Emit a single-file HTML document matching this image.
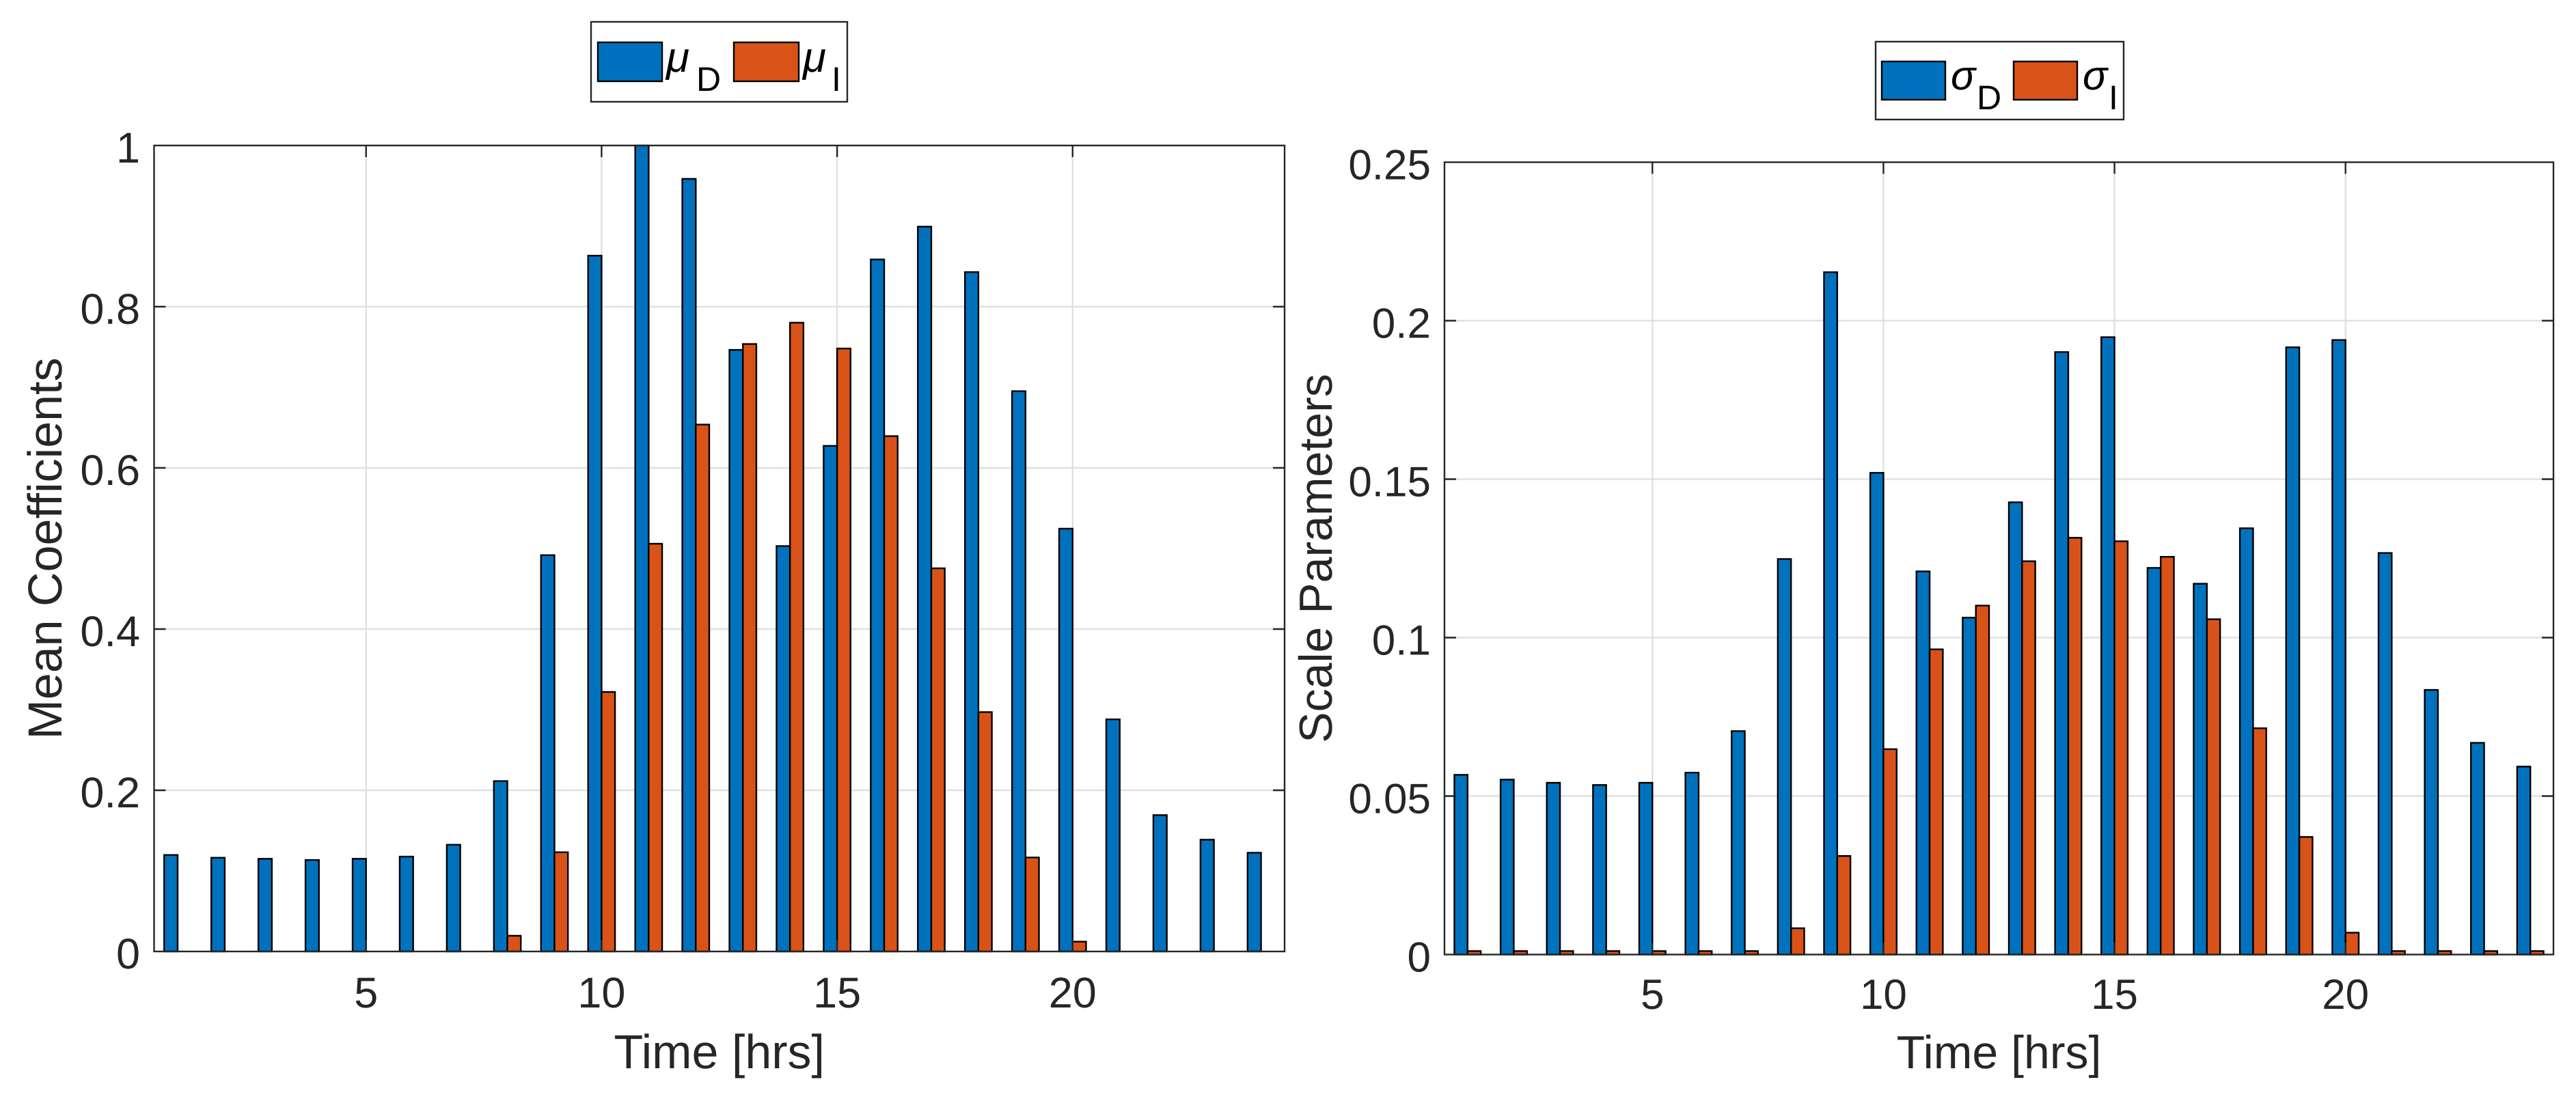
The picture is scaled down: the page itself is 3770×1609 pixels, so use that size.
<!DOCTYPE html>
<html lang="en">
<head>
<meta charset="utf-8">
<title>Mean Coefficients and Scale Parameters by Hour</title>
<style>
html,body{margin:0;padding:0;background:#fff;width:3770px;height:1609px;overflow:hidden}
svg{display:block}
text{font-family:"Liberation Sans",Arial,sans-serif;text-rendering:geometricPrecision}
</style>
</head>
<body>
<svg id="figure" xmlns="http://www.w3.org/2000/svg" width="3770" height="1609" viewBox="0 0 3770 1609">
  <rect x="0" y="0" width="3770" height="1609" fill="#fff"/>
  <g id="left-panel"></g>
  <g id="right-panel"></g>

  <g>
    <rect x="865" y="32" width="375" height="117" fill="#fff" stroke="#262626" stroke-width="2.4"/>
    <rect x="875" y="62" width="94" height="57" fill="#0072BD" stroke="#000" stroke-width="2.4"/>
    <text x="975" y="105" font-size="62" font-style="italic" fill="#000">μ</text>
    <text x="1019" y="133" font-size="50" fill="#000">D</text>
    <rect x="1074" y="62" width="95" height="57" fill="#D95319" stroke="#000" stroke-width="2.4"/>
    <text x="1175" y="105" font-size="62" font-style="italic" fill="#000">μ</text>
    <text x="1217" y="133" font-size="50" fill="#000">I</text>
  </g>

  <g>
    <rect x="2745" y="61" width="363" height="114" fill="#fff" stroke="#262626" stroke-width="2.4"/>
    <rect x="2754" y="90" width="93" height="56" fill="#0072BD" stroke="#000" stroke-width="2.4"/>
    <text x="2855" y="131" font-size="60" font-style="italic" fill="#000">σ</text>
    <text x="2893" y="160" font-size="50" fill="#000">D</text>
    <rect x="2947" y="90" width="93" height="56" fill="#D95319" stroke="#000" stroke-width="2.4"/>
    <text x="3048" y="131" font-size="60" font-style="italic" fill="#000">σ</text>
    <text x="3086" y="160" font-size="50" fill="#000">I</text>
  </g>
</svg>

<script>
// ----- chart data -----
const hours = [1,2,3,4,5,6,7,8,9,10,11,12,13,14,15,16,17,18,19,20,21,22,23,24];
const xTickValues = [5,10,15,20];

const meanDirect   = [0.1197,0.1163,0.115,0.1135,0.115,0.1177,0.1324,0.2114,0.4917,0.8633,1.0,0.9586,0.7464,0.503,0.6273,0.8586,0.8993,0.8429,0.6952,0.5246,0.288,0.1692,0.1387,0.1225];
const meanIndirect = [0,0,0,0,0,0,0,0.0195,0.1231,0.322,0.5059,0.6537,0.7537,0.7801,0.7481,0.6394,0.4754,0.297,0.1166,0.0122,0,0,0,0];
const meanTickValues = [0,0.2,0.4,0.6,0.8,1];
const meanTickLabels = ["0","0.2","0.4","0.6","0.8","1"];

const scaleDirect   = [0.0567,0.0552,0.0542,0.0535,0.0542,0.0574,0.0705,0.1248,0.2153,0.152,0.1209,0.1063,0.1427,0.1901,0.1948,0.122,0.117,0.1345,0.1916,0.1939,0.1267,0.0835,0.0668,0.0593];
const scaleIndirect = [0.0011,0.0011,0.0011,0.0011,0.0011,0.0011,0.0011,0.0083,0.0311,0.0648,0.0963,0.1101,0.1241,0.1315,0.1304,0.1255,0.1058,0.0714,0.0371,0.0069,0.0011,0.0011,0.0011,0.0011];
const scaleTickValues = [0,0.05,0.1,0.15,0.2,0.25];
const scaleTickLabels = ["0","0.05","0.1","0.15","0.2","0.25"];

// ----- drawing -----
const SVG_NS = "http://www.w3.org/2000/svg";
const AXIS_COLOR = "#262626";
const GRID_COLOR = "#e0e0e0";
const DIRECT_COLOR = "#0072BD";
const INDIRECT_COLOR = "#D95319";
const LINE_W = 2.4;
const TICK_LEN = 17;
const BAR_FRACTION = 0.2857;
const X_MIN = 0.5;
const X_MAX = 24.5;

function make(parent, tag, attrs, content) {
  const node = document.createElementNS(SVG_NS, tag);
  for (const k in attrs) node.setAttribute(k, attrs[k]);
  if (content !== undefined) node.textContent = content;
  parent.appendChild(node);
  return node;
}

function drawPanel(root, box, direct, indirect, yTicks, yLabels, yMax, yTitle) {
  const xs = function (v) { return box.left + (v - X_MIN) / (X_MAX - X_MIN) * (box.right - box.left); };
  const ys = function (v) { return box.bottom - v / yMax * (box.bottom - box.top); };
  const barW = BAR_FRACTION * (xs(1) - xs(0));

  // grid
  xTickValues.forEach(function (t) {
    const g = make(root, "line", {x1: xs(t), x2: xs(t), y1: box.top, y2: box.bottom, stroke: GRID_COLOR, "stroke-width": LINE_W});
    
    
  });
  yTicks.forEach(function (t) {
    if (t === 0 || t === yMax) return;
    const g = make(root, "line", {x1: box.left, x2: box.right, y1: ys(t), y2: ys(t), stroke: GRID_COLOR, "stroke-width": LINE_W});
    
    
  });

  // bars
  hours.forEach(function (h, i) {
    const a = make(root, "rect", {x: xs(h) - barW, y: ys(direct[i]), width: barW, height: ys(0) - ys(direct[i]), fill: DIRECT_COLOR, stroke: "#000", "stroke-width": LINE_W});
    
    
    const b = make(root, "rect", {x: xs(h), y: ys(indirect[i]), width: barW, height: ys(0) - ys(indirect[i]), fill: INDIRECT_COLOR, stroke: "#000", "stroke-width": LINE_W});
    
    
  });

  // axes box
  const frame = make(root, "rect", {x: box.left, y: box.top, width: box.right - box.left, height: box.bottom - box.top, fill: "none", stroke: AXIS_COLOR, "stroke-width": LINE_W});
  
  

  // x ticks and labels
  xTickValues.forEach(function (t) {
    const top = make(root, "line", {x1: xs(t), x2: xs(t), y1: box.top, y2: box.top + TICK_LEN, stroke: AXIS_COLOR, "stroke-width": LINE_W});
    
    
    const bot = make(root, "line", {x1: xs(t), x2: xs(t), y1: box.bottom, y2: box.bottom - TICK_LEN, stroke: AXIS_COLOR, "stroke-width": LINE_W});
    
    
    const lab = make(root, "text", {x: xs(t), y: box.xTickBase, "font-size": box.tickFont, fill: AXIS_COLOR, "text-anchor": "middle"}, String(t));
    
    
  });

  // y ticks and labels
  yTicks.forEach(function (t, i) {
    if (t !== 0 && t !== yMax) {
      const l = make(root, "line", {x1: box.left, x2: box.left + TICK_LEN, y1: ys(t), y2: ys(t), stroke: AXIS_COLOR, "stroke-width": LINE_W});
      
      
      const r = make(root, "line", {x1: box.right, x2: box.right - TICK_LEN, y1: ys(t), y2: ys(t), stroke: AXIS_COLOR, "stroke-width": LINE_W});
      
      
    }
    const lab = make(root, "text", {x: box.yTickRight, y: ys(t) + 25, "font-size": box.tickFont, fill: AXIS_COLOR, "text-anchor": "end"}, yLabels[i]);
    
    
  });

  // axis titles
  const xt = make(root, "text", {x: (box.left + box.right) / 2, y: box.xTitleBase, "font-size": box.titleFont, fill: AXIS_COLOR, "text-anchor": "middle"}, "Time [hrs]");
  
  
  const cy = (box.top + box.bottom) / 2;
  const yt = make(root, "text", {x: 0, y: 0, "font-size": box.titleFont, fill: AXIS_COLOR, "text-anchor": "middle", transform: "translate(" + box.yTitleBase + " " + cy + ") rotate(-90)"}, yTitle);
  
  
}

drawPanel(
  document.getElementById("left-panel"),
  {left: 225.5, right: 1880, top: 213, bottom: 1393, xTickBase: 1475, xTitleBase: 1564, yTickRight: 205, yTitleBase: 90, tickFont: 63, titleFont: 70},
  meanDirect, meanIndirect, meanTickValues, meanTickLabels, 1, "Mean Coefficients"
);
drawPanel(
  document.getElementById("right-panel"),
  {left: 2114, right: 3737, top: 237.5, bottom: 1397.5, xTickBase: 1477, xTitleBase: 1564, yTickRight: 2094, yTitleBase: 1949, tickFont: 62, titleFont: 68},
  scaleDirect, scaleIndirect, scaleTickValues, scaleTickLabels, 0.25, "Scale Parameters"
);
</script>
</body>
</html>
